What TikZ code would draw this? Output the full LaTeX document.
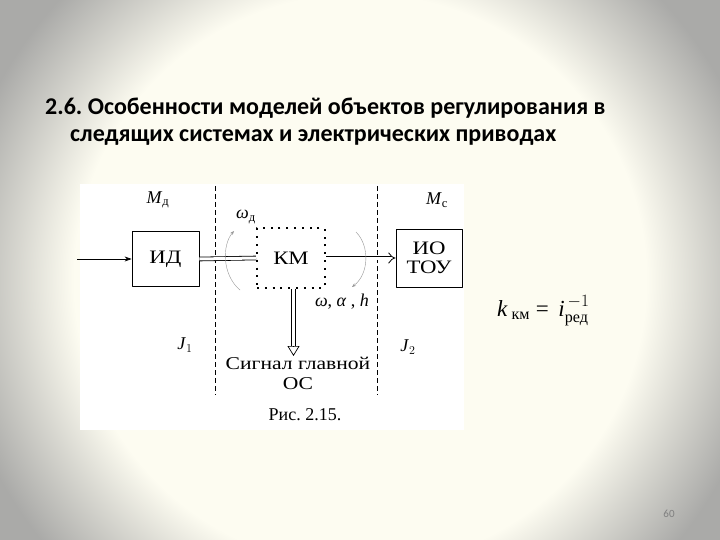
\documentclass[tikz,border=0pt]{standalone}
\usepackage{amsmath}
\usepackage{fontspec}
\setmainfont{Liberation Serif}
\newfontfamily\figfont{Liberation Serif}
\newfontfamily\figwide[FakeStretch=1.2]{Liberation Serif}
\newfontfamily\titlefont{Carlito}
\usetikzlibrary{arrows.meta}
\frenchspacing
\definecolor{cream}{RGB}{253,252,241}
\definecolor{edgegray}{RGB}{170,170,168}
\definecolor{arcgray}{RGB}{150,150,150}
\pgfdeclareradialshading{vignette}{\pgfpoint{0bp}{0bp}}{color(0bp)=(cream); color(285bp)=(cream); color(340bp)=(edgegray!45!cream); color(410bp)=(edgegray); color(480bp)=(edgegray)}
\begin{document}
\begin{tikzpicture}[x=1pt,y=-1pt,line join=round,
	blk/.style={draw,line width=0.8pt,minimum width=67pt,minimum height=55pt,inner sep=0pt,align=center},
	dotblk/.style={draw,line width=2pt,dash pattern=on 2pt off 5.8pt,line cap=butt,minimum width=68pt,minimum height=59pt,inner sep=0pt},
	dbl/.style={double,double distance=3pt,line width=0.8pt},
	arcarr/.style={arcgray,line width=0.4pt,-{Stealth[length=4pt,width=3pt]}},
	lbl/.style={font=\figfont\fontsize{18}{20}\selectfont,inner sep=0pt},
	boxtext/.style={font=\figwide\fontsize{19}{19}\selectfont}]
\useasboundingbox (0,0) rectangle (720,540);
\begin{scope}
	\clip (0,0) rectangle (720,540);
	\node[inner sep=0pt] at (360,280) {\pgfuseshading{vignette}};
\end{scope}
% title
\node[anchor=base west,inner sep=0pt,font=\titlefont\bfseries\fontsize{24}{28}\selectfont] (t1) at (45,115) {2.6. Особенности моделей объектов регулирования в};
\node[anchor=base west,inner sep=0pt,font=\titlefont\bfseries\fontsize{24}{28}\selectfont] (t2) at (70,142) {следящих системах и электрических приводах};
% figure
\fill[white] (80,184) rectangle (464,430);
\draw[dashed,dash pattern=on 5pt off 3pt,line width=0.6pt] (215,186)--(215,395);
\draw[dashed,dash pattern=on 5pt off 3pt,line width=0.6pt] (377,186)--(377,395);
\node[blk,boxtext] (id) at (165.5,259) {ИД};
\node[dotblk,boxtext] (km) at (291,258) {КМ};
\node[blk,boxtext,minimum width=66pt,minimum height=58pt] (io) at (429,258) {ИО\\ТОУ};
\coordinate (in) at (77,259);
\coordinate (os) at (293.5,346);
\draw[-{Stealth[length=7pt,width=5pt]},line width=0.7pt] (in)--(id.west);
\draw[dbl] (id.east)--(km.west);
\draw[dbl,-{Implies}] (km.east)--(io.west);
\draw[dbl] (km.south-|os)--(os);
\draw[-{Triangle[open,length=10pt,width=12pt]},line width=0.7pt] (os)--++(0,10);
\draw[arcarr] (240,290) .. controls (222,275) and (222,245) .. (234,231);
\draw[arcarr] (356,232) .. controls (370,246) and (369,274) .. (352,287);
\node[lbl] (md) at (158,200) {\textit{M}$_{\text{д}}$};
\node[lbl] (mc) at (437,200) {\textit{M}$_{\text{с}}$};
\node[lbl] (wd) at (246,217) {\textit{ω}$_{\text{д}}$};
\node[lbl] (wah) at (342,302) {\textit{ω}, \textit{α} , \textit{h}};
\node[lbl] (j1) at (185,345) {\textit{J}$_{1}$};
\node[lbl] (j2) at (408,347) {\textit{J}$_{2}$};
\node[lbl,align=center,font=\figwide\fontsize{18}{20}\selectfont] (sig) at (298,373) {Сигнал главной\\ОС};
\node[lbl] (fig) at (305,415) {Рис. 2.15.};
% formula
\node[anchor=base west,inner sep=0pt,font=\figfont\fontsize{23}{26}\selectfont] (kkm) at (497,316) {\textit{k}\,$_{\text{км}}$ = \,\textit{i}$^{\,-1}_{\text{ред}}$};
\node[text=gray,font=\titlefont\fontsize{11}{12}\selectfont] (pg) at (669,514) {60};
\end{tikzpicture}
\end{document}
